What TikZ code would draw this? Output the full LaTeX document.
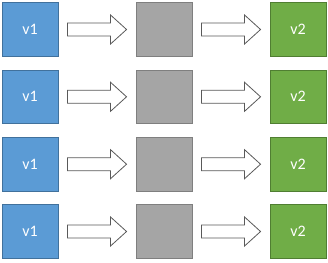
\documentclass[tikz,border=0pt]{standalone}
\usepackage{fontspec}
\setmainfont{Carlito}
\usetikzlibrary{calc}
\definecolor{bfill}{HTML}{5B9BD5}\definecolor{bdraw}{HTML}{41719C}
\definecolor{gfill}{HTML}{A5A5A5}\definecolor{gdraw}{HTML}{7F7F7F}
\definecolor{nfill}{HTML}{70AD47}\definecolor{ndraw}{HTML}{507E32}
\definecolor{adraw}{HTML}{595959}
\tikzset{
  sq/.style={minimum width=56pt,minimum height=53.5pt,inner sep=0pt,line width=0.9pt,text=white,font=\fontsize{16}{19}\selectfont},
  bluebox/.style={sq,fill=bfill,draw=bdraw},
  graybox/.style={sq,fill=gfill,draw=gdraw},
  greenbox/.style={sq,fill=nfill,draw=ndraw},
  blockarrowstyle/.style={draw=adraw,fill=white,line width=0.8pt,line join=miter}
}
\newcommand\blockarr[2]{%
  \draw[blockarrowstyle] let \p1=(#1.east), \p2=(#2.west) in
    (\x1+9pt,\y1+6.5pt) -- (\x2-25pt,\y1+6.5pt) -- (\x2-25pt,\y1+14.5pt) --
    (\x2-9pt,\y1) -- (\x2-25pt,\y1-14.5pt) -- (\x2-25pt,\y1-6.5pt) --
    (\x1+9pt,\y1-6.5pt) -- cycle;}
\begin{document}
\begin{tikzpicture}[x=1pt,y=-1pt]
\useasboundingbox (0,0) rectangle (328,262);
\foreach \i/\yy in {1/29.5,2/96.8,3/164.2,4/231.5}{
  \node[bluebox] (a\i) at (30,\yy) {v1};
  \node[graybox] (b\i) at (164,\yy) {};
  \node[greenbox] (c\i) at (298,\yy) {v2};
  \blockarr{a\i}{b\i}
  \blockarr{b\i}{c\i}
}
\end{tikzpicture}
\end{document}
